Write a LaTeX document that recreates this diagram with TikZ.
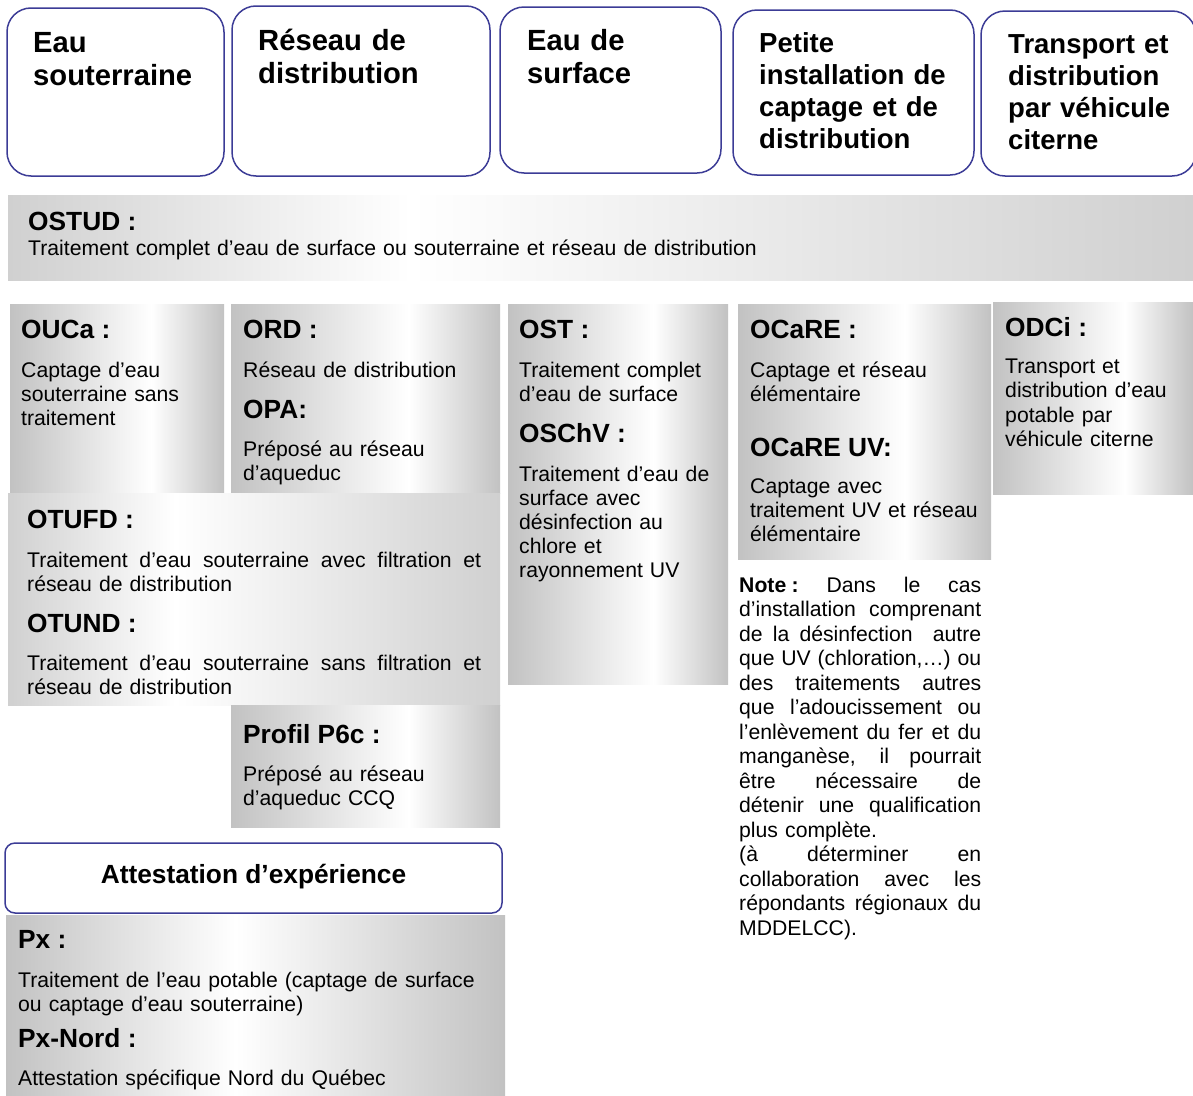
\documentclass[tikz,border=0pt]{standalone}
\usepackage{fontspec}
\setmainfont{Liberation Sans}
\definecolor{frameblue}{RGB}{60,60,150}
\definecolor{boxgray}{RGB}{194,194,194}
\definecolor{bargray}{RGB}{208,208,208}
\pgfdeclarehorizontalshading{silver}{100bp}{color(0bp)=(boxgray); color(25bp)=(boxgray); color(58bp)=(white); color(75bp)=(boxgray); color(100bp)=(boxgray)}
\pgfdeclarehorizontalshading{silvermid}{100bp}{color(0bp)=(boxgray); color(25bp)=(boxgray); color(48bp)=(white); color(75bp)=(boxgray); color(100bp)=(boxgray)}
\pgfdeclarehorizontalshading{silverwide}{100bp}{color(0bp)=(bargray); color(25bp)=(bargray); color(42bp)=(white); color(75bp)=(bargray); color(100bp)=(bargray)}
\newcommand{\catfont}{\fontsize{29.2}{33.5}\selectfont\bfseries}
\newcommand{\catsmallfont}{\fontsize{27.5}{32}\selectfont\bfseries}
\newcommand{\headfont}{\fontsize{26.3}{30}\selectfont\bfseries}
\newcommand{\bodyfont}{\fontsize{21.2}{24.2}\selectfont}
\newcommand{\notefont}{\fontsize{21.2}{24.5}\selectfont}
\newcommand{\fullline}[1]{{\spaceskip=.278em plus 1fil\xspaceskip=.278em plus 1fil\makebox[\linewidth][s]{#1}}}
\tikzset{
  catbox/.style={draw=frameblue, line width=1.5pt, rounded corners=24pt},
  attbox/.style={draw=frameblue, line width=1.5pt, rounded corners=10pt},
  grey/.style={shading=silver},
  greymid/.style={shading=silvermid},
  greywide/.style={shading=silverwide},
  cattext/.style={anchor=base west, inner sep=0pt, font=\catfont, text width=#1, align=left},
  headtext/.style={anchor=base west, inner sep=0pt, font=\headfont},
  bodytext/.style={anchor=base west, inner sep=0pt, font=\bodyfont, text width=#1, align=left},
  notetext/.style={anchor=base west, inner sep=0pt, font=\notefont, text width=#1, align=left}
}
\begin{document}
\begin{tikzpicture}[x=1pt,y=-1pt]
\useasboundingbox (0,0) rectangle (1193,1095);
% categories
\draw[catbox] (7,8) rectangle (224,176);
\draw[catbox] (232,6) rectangle (490,176);
\draw[catbox] (500,7) rectangle (721,173);
\draw[catbox] (733,10) rectangle (974,175);
\draw[catbox] (981,11) rectangle (1196,176);
\node[cattext=185] (souterraine) at (33,52) {Eau\\souterraine};
\node[cattext=225] (reseau) at (258,50) {Réseau de\\distribution};
\node[cattext=185] (surface) at (527,50) {Eau de\\surface};
\node[cattext=210, font=\catsmallfont] (petite) at (759,52) {Petite\\installation de\\captage et de\\distribution};
\node[cattext=182, font=\catsmallfont] (citerne) at (1008,53) {Transport et\\distribution\\par véhicule\\citerne};
% qualifications
\shade[greywide] (8,195) rectangle (1193,280);
\shade[grey] (10,304) rectangle (224,493);
\shade[grey] (231,304) rectangle (500,493);
\shade[greywide] (8,493) rectangle (500,705);
\shade[grey] (231,705) rectangle (500,827);
\shade[grey] (508,304) rectangle (728,684);
\shade[grey] (738,304) rectangle (991,559);
\shade[grey] (993,302) rectangle (1193,494);
\draw[attbox] (5,843) rectangle (502,913);
\shade[greymid] (6,915) rectangle (505,1095);
\node[headtext] (ostud) at (28,230) {OSTUD :};
\node[bodytext=1150] (ostud-txt) at (28,255) {Traitement complet d’eau de surface ou souterraine et réseau de distribution};
\node[headtext] (ouca) at (21,338) {OUCa :};
\node[bodytext=200] (ouca-txt) at (21,377) {Captage d’eau\\souterraine sans\\traitement};
\node[headtext] (ord) at (243,338) {ORD :};
\node[bodytext=250] (ord-txt) at (243,377) {Réseau de distribution};
\node[headtext] (opa) at (243,418) {OPA:};
\node[bodytext=250] (opa-txt) at (243,456) {Préposé au réseau\\d’aqueduc};
\node[headtext] (otufd) at (27,528) {OTUFD :};
\node[bodytext=454] (otufd-txt) at (27,567) {\fullline{Traitement d’eau souterraine avec filtration et}\\réseau de distribution};
\node[headtext] (otund) at (27,632) {OTUND :};
\node[bodytext=454] (otund-txt) at (27,670) {\fullline{Traitement d’eau souterraine sans filtration et}\\réseau de distribution};
\node[headtext] (p6c) at (243,743) {Profil P6c :};
\node[bodytext=250] (p6c-txt) at (243,781) {Préposé au réseau\\d’aqueduc CCQ};
\node[headtext] (ost) at (519,338) {OST :};
\node[bodytext=205] (ost-txt) at (519,377) {Traitement complet\\d’eau de surface};
\node[headtext] (oschv) at (519,442) {OSChV :};
\node[bodytext=205] (oschv-txt) at (519,481) {Traitement d’eau de\\surface avec\\désinfection au\\chlore et\\rayonnement UV};
\node[headtext] (ocare) at (750,338) {OCaRE :};
\node[bodytext=236] (ocare-txt) at (750,377) {Captage et réseau\\élémentaire};
\node[headtext] (ocareuv) at (750,456) {OCaRE UV:};
\node[bodytext=236] (ocareuv-txt) at (750,493) {Captage avec\\traitement UV et réseau\\élémentaire};
\node[headtext] (odci) at (1005,336) {ODCi :};
\node[bodytext=185, font=\notefont] (odci-txt) at (1005,373) {Transport et\\distribution d’eau\\potable par\\véhicule citerne};
\node[notetext=242] (note) at (739,592) {\fullline{\textbf{Note\kern.25em:}\ Dans le cas}\\
  \fullline{d’installation comprenant}\\
  \fullline{de la désinfection\ \ autre}\\
  \fullline{que UV (chloration,…) ou}\\
  \fullline{des traitements autres}\\
  \fullline{que l’adoucissement ou}\\
  \fullline{l’enlèvement du fer et du}\\
  \fullline{manganèse, il pourrait}\\
  \fullline{être nécessaire de}\\
  \fullline{détenir une qualification}\\
  plus complète.\\
  \fullline{(à déterminer en}\\
  \fullline{collaboration avec les}\\
  \fullline{répondants régionaux du}\\
  MDDELCC).};
% attestation
\node[headtext, anchor=base] (attestation) at (253.5,883) {Attestation d’expérience};
\node[headtext] (px) at (18,948) {Px :};
\node[bodytext=480] (px-txt) at (18,987) {Traitement de l’eau potable (captage de surface\\ou captage d’eau souterraine)};
\node[headtext] (pxnord) at (18,1047) {Px-Nord :};
\node[bodytext=480] (pxnord-txt) at (18,1085) {Attestation spécifique Nord du Québec};
\end{tikzpicture}
\end{document}
